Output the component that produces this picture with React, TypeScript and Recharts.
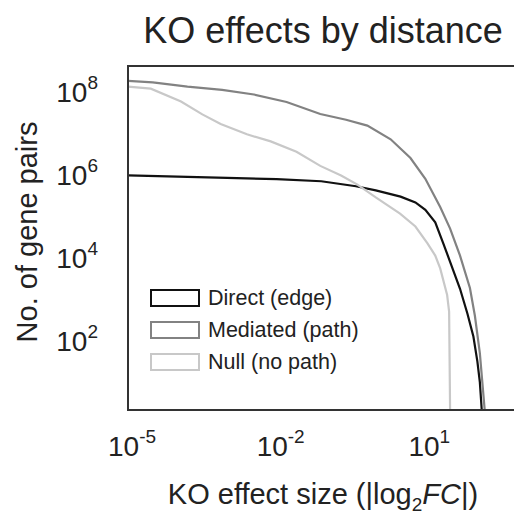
import React from 'react'
import { LineChart, Line, XAxis, YAxis } from 'recharts'

// log10 of |log2FC| thresholds and log10 of counts
const directX = [-5, -4, -3, -2, -1.1, -0.4, 0, 0.5, 0.8, 1.0, 1.2, 1.36, 1.5, 1.7, 1.85, 1.97, 2.05, 2.1, 2.14]
const directY = [5.98, 5.95, 5.92, 5.89, 5.84, 5.72, 5.62, 5.47, 5.33, 5.15, 4.85, 4.35, 3.9, 3.25, 2.65, 2.1, 1.5, 1.0, 0.3]
const mediatedX = [-5, -4.5, -3.8, -3.1, -2.46, -1.8, -1.12, -0.6, -0.17, 0.3, 0.7, 1.0, 1.3, 1.5, 1.7, 1.9, 2.0, 2.1, 2.2]
const mediatedY = [8.26, 8.22, 8.12, 8.04, 7.93, 7.75, 7.46, 7.32, 7.18, 6.85, 6.4, 5.9, 5.22, 4.7, 4.05, 3.27, 2.6, 1.7, 0.3]
const nullX = [-5, -4.54, -3.93, -3.5, -3.13, -2.6, -2.12, -1.6, -1.12, -0.7, -0.37, 0, 0.49, 0.8, 1.04, 1.2, 1.3, 1.44, 1.48, 1.5]
const nullY = [8.12, 8.07, 7.76, 7.45, 7.22, 6.97, 6.8, 6.55, 6.21, 5.98, 5.76, 5.45, 5.06, 4.75, 4.35, 4.05, 3.74, 3.1, 2.7, 0.3]
const xTicks = [-5, -2, 1]
const yTicks = [2, 4, 6, 8]

const toData = (xs: number[], ys: number[]) => xs.map((x, i) => ({ x: 10 ** x, y: 10 ** ys[i] }))
const series = [
  { name: 'Direct (edge)', color: '#111111', data: toData(directX, directY) },
  { name: 'Mediated (path)', color: '#828282', data: toData(mediatedX, mediatedY) },
  { name: 'Null (no path)', color: '#c8c8c8', data: toData(nullX, nullY) },
]

const font = '"Liberation Sans", Arial, sans-serif'

const PowTick = (props: any) => {
  const { x, y, payload, axis } = props
  const e = Math.round(Math.log10(payload.value))
  const isX = axis === 'x'
  return (
    <text x={isX ? x + 4 : x - 22} y={isX ? y + 38 : y + 10} textAnchor={isX ? 'middle' : 'end'}
      fontFamily={font} fontSize={28} fill="#222">
      10<tspan dy={-13} fontSize={19}>{e}</tspan>
    </text>
  )
}

export default function App() {
  return (
    <div style={{ position: 'relative', width: 522, height: 523, margin: -8, background: '#fff', fontFamily: font, color: '#222' }}>
      <LineChart width={522} height={523} margin={{ top: 65, right: 4, bottom: 0, left: 0 }}>
        <XAxis type="number" dataKey="x" scale="log" domain={[1e-5, 10 ** 2.87]} ticks={xTicks.map(t => 10 ** t)}
          allowDataOverflow axisLine={false} tickLine={false} height={113}
          tick={(p: any) => <PowTick {...p} axis="x" />} />
        <YAxis type="number" dataKey="y" scale="log" domain={[10 ** 0.33, 10 ** 8.64]} ticks={yTicks.map(t => 10 ** t)}
          allowDataOverflow axisLine={false} tickLine={false} width={128}
          tick={(p: any) => <PowTick {...p} axis="y" />} />
        {series.map(s => (
          <Line key={s.name} data={s.data} dataKey="y" type="linear" stroke={s.color} strokeWidth={2.2}
            dot={false} isAnimationActive={false} />
        ))}
      </LineChart>
      <div style={{ position: 'absolute', left: 127, top: 65, width: 391, height: 346, border: '2px solid #333', boxSizing: 'border-box', pointerEvents: 'none' }} />
      <div style={{ position: 'absolute', left: 100, width: 446, top: 10, textAlign: 'center', fontSize: 36 }}>KO effects by distance</div>
      <div style={{ position: 'absolute', left: 100, width: 446, top: 478, textAlign: 'center', fontSize: 29 }}>
        KO effect size (|log<sub style={{ fontSize: 19 }}>2</sub><i>FC</i>|)
      </div>
      <div style={{ position: 'absolute', left: 27, top: 232, width: 0, height: 0 }}>
        <div style={{ position: 'absolute', transform: 'translate(-50%,-50%) rotate(-90deg)', whiteSpace: 'nowrap', fontSize: 29 }}>No. of gene pairs</div>
      </div>
      <div style={{ position: 'absolute', left: 150, top: 282, fontSize: 21.5 }}>
        {series.map(s => (
          <div key={s.name} style={{ display: 'flex', alignItems: 'center', height: 32 }}>
            <div style={{ width: 50, height: 18, border: `2.5px solid ${s.color}`, boxSizing: 'border-box', marginRight: 8 }} />
            {s.name}
          </div>
        ))}
      </div>
    </div>
  )
}
